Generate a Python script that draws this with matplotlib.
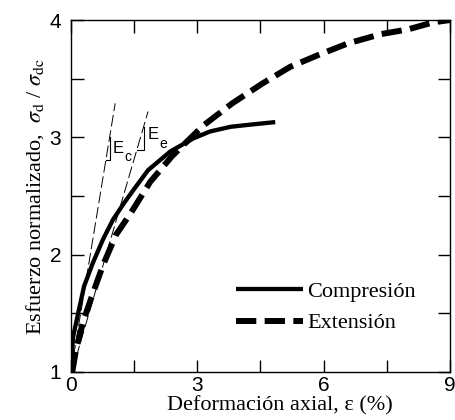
import numpy as np
import matplotlib.pyplot as plt

plt.rcParams['mathtext.fontset'] = 'stix'

# curva de compresion (deformacion %, esfuerzo normalizado)
eps_c = [0.0, 0.05, 0.17, 0.31, 0.52, 0.76, 1.0, 1.26, 1.5, 1.83, 2.36, 2.9, 3.3, 3.79, 4.3, 4.85]
sig_c = [1.04, 1.30, 1.50, 1.73, 1.93, 2.13, 2.30, 2.44, 2.56, 2.72, 2.88, 2.99, 3.05, 3.09, 3.11, 3.13]

# curva de extension
eps_e = [0.03, 0.12, 0.29, 0.52, 0.76, 1.07, 1.43, 1.88, 2.4, 3.14, 3.83, 4.55, 5.2, 5.86, 6.57, 7.36, 8.0, 8.6, 9.0]
sig_e = [1.0, 1.19, 1.43, 1.67, 1.91, 2.17, 2.36, 2.62, 2.84, 3.1, 3.29, 3.46, 3.6, 3.70, 3.80, 3.88, 3.92, 3.98, 4.0]

# rectas tangentes (modulos Ec y Ee)
tan_c_x = [0.0, 1.05]
tan_c_y = [1.0, 3.29]
tan_e_x = [0.02, 1.83]
tan_e_y = [1.0, 3.22]

# triangulos de pendiente
tri_c_x = [0.83, 0.92, 0.92]
tri_c_y = [2.81, 2.81, 3.0]
tri_e_x = [1.56, 1.73, 1.73]
tri_e_y = [2.89, 2.89, 3.09]

fig = plt.figure(figsize=(4.55, 4.2), dpi=100)
ax = fig.add_axes([0.156, 0.1143, 0.833, 0.838])

ax.plot(tan_c_x, tan_c_y, color='black', lw=0.7, dashes=(12, 4))
ax.plot(tan_e_x, tan_e_y, color='black', lw=0.7, dashes=(12, 4))
ax.plot(tri_c_x, tri_c_y, color='black', lw=0.8)
ax.plot(tri_e_x, tri_e_y, color='black', lw=0.8)

ax.plot(eps_c, sig_c, color='black', lw=3.1, label='Compresión', solid_capstyle='butt')
ax.plot(eps_e, sig_e, color='black', lw=4.3, dashes=(3.4, 1.4), label='Extensión')

sans = 'Liberation Sans'
ax.text(0.98, 2.87, 'E', fontsize=12, family=sans, va='baseline')
ax.text(1.26, 2.80, 'c', fontsize=10, family=sans, va='baseline')
ax.text(1.83, 2.99, 'E', fontsize=12, family=sans, va='baseline')
ax.text(2.10, 2.91, 'e', fontsize=10, family=sans, va='baseline')

ax.set_xlim(0, 9)
ax.set_ylim(1, 4)
ax.set_xticks(np.arange(0, 9.1, 1.5))
ax.set_xticklabels(['0', '', '3', '', '6', '', '9'])
ax.set_yticks(np.arange(1, 4.1, 0.5))
ax.set_yticklabels(['1', '', '2', '', '3', '', '4'])
ax.tick_params(direction='in', length=9, width=1, top=True, right=True,
               labelsize=15, labelfontfamily=sans)
ax.tick_params(axis='x', pad=3)
ax.tick_params(axis='y', pad=7)
for s in ax.spines.values():
    s.set_linewidth(1)

ax.set_xlabel('Deformación axial, ε (%)', fontsize=16, family='Liberation Serif')
ax.xaxis.set_label_coords(0.551, -0.068)
ax.set_ylabel(r'Esfuerzo normalizado,  $\sigma_{\rm d}$ / $\sigma_{\rm dc}$',
              fontsize=16, family='Liberation Serif')
ax.yaxis.set_label_coords(-0.066, 0.5)

ax.legend(loc='upper left', bbox_to_anchor=(0.435, 0.257), frameon=False,
          prop={'family': 'Liberation Serif', 'size': 16}, handlelength=3.0,
          handletextpad=0.2, labelspacing=0.48, borderpad=0, borderaxespad=0)

fig.savefig('out.png', dpi=100)
